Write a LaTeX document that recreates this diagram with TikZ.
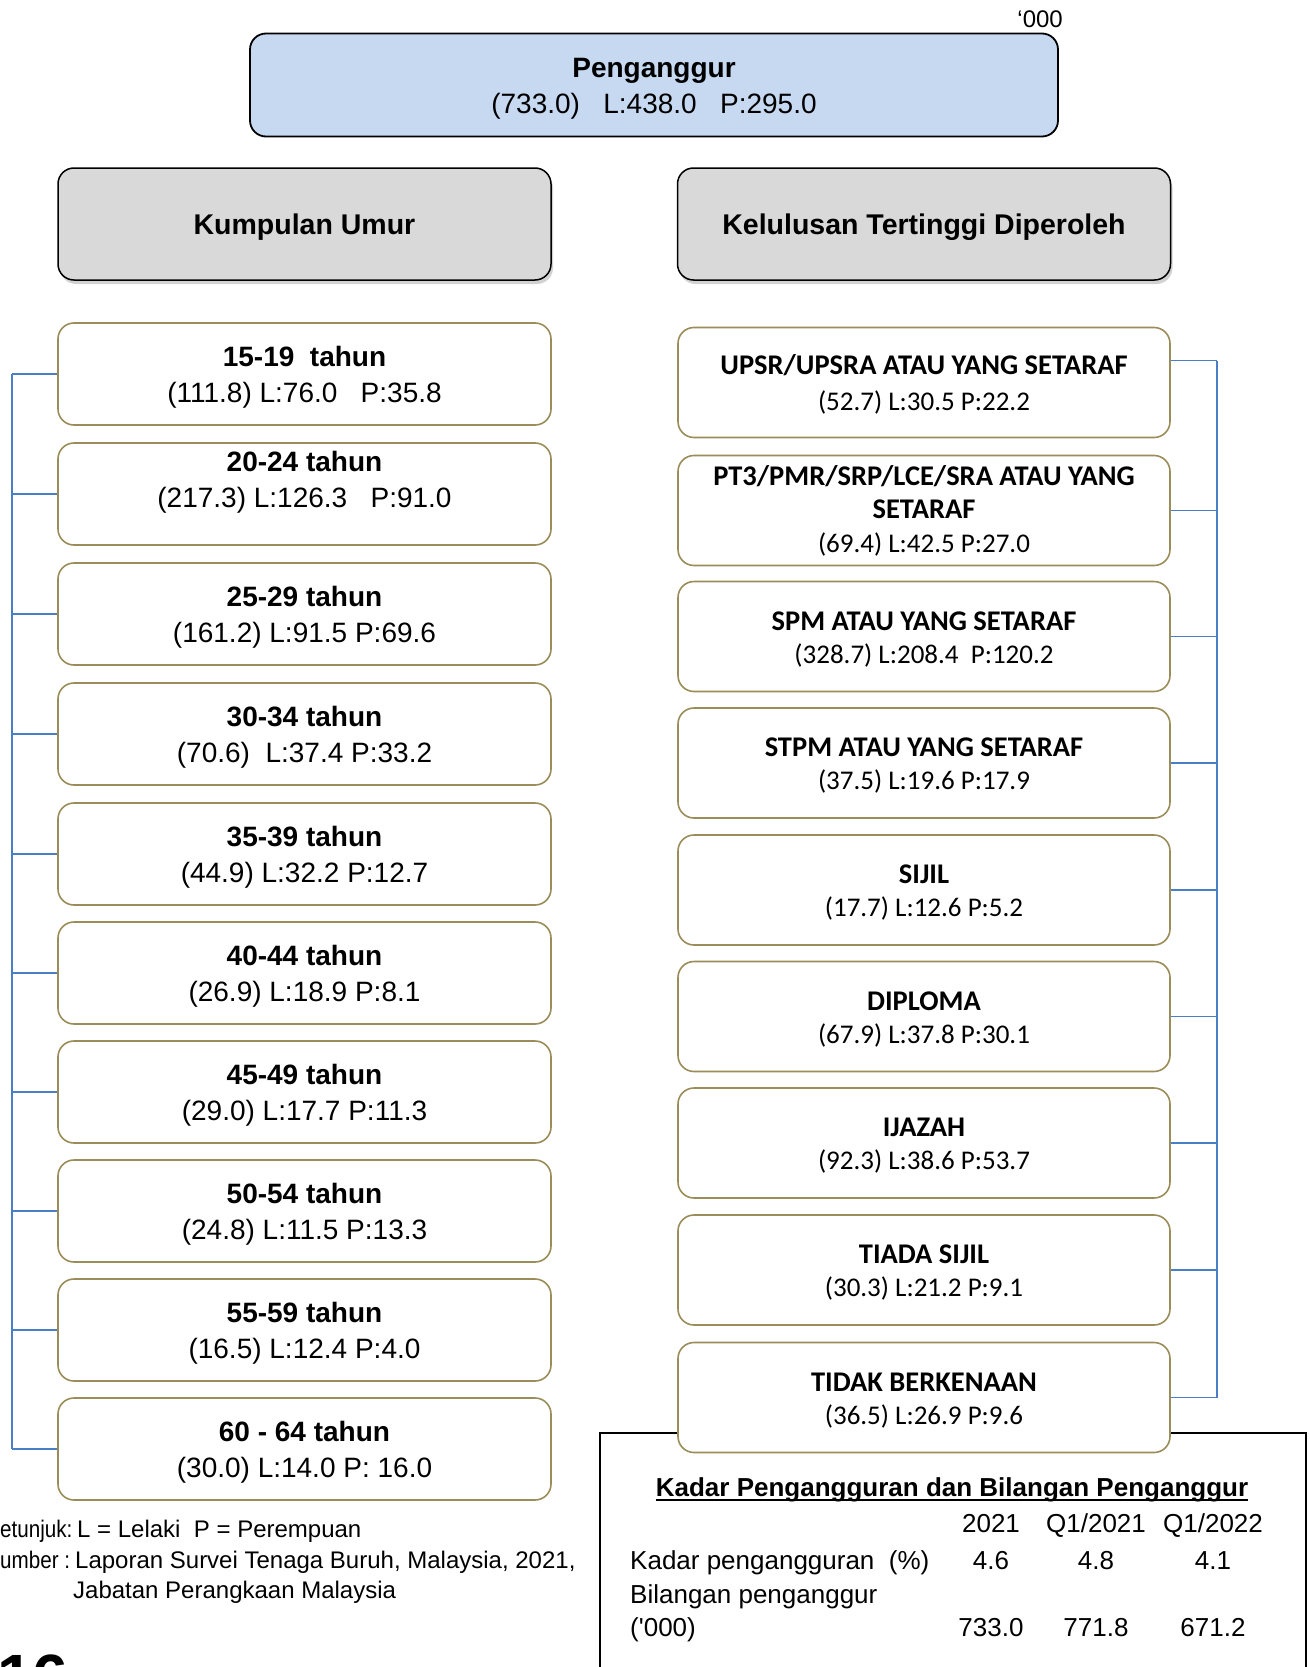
\documentclass[tikz,border=0pt]{standalone}
\usepackage{fontspec}
\setmainfont{Liberation Sans}[Ligatures=TeXOff]
\newfontfamily\calfont{Carlito}
\usetikzlibrary{shadows,calc}
\definecolor{topblue}{HTML}{C6D9F1}
\definecolor{hdrgray}{HTML}{D9D9D9}
\definecolor{boxolive}{HTML}{9A8D5A}
\definecolor{linkblue}{HTML}{4A7EC6}
\newcommand\fstrut{\rule{0pt}{26pt}}
\newcommand\cstrut{\rule{0pt}{24pt}}
\newcommand\eb[1]{{\fontsize{28.5}{33}\selectfont\bfseries #1}}
\tikzset{
  topbox/.style={draw=black, line width=1.8pt, fill=topblue, rounded corners=16pt,
    minimum width=808pt, minimum height=103pt, align=center, inner sep=0pt,
    font=\fontsize{28}{36}\selectfont},
  hdrbox/.style={draw=black, line width=1.5pt, fill=hdrgray, rounded corners=16pt,
    minimum width=493pt, minimum height=112pt, align=center, inner sep=0pt,
    font=\fontsize{28.5}{36}\selectfont\bfseries,
    drop shadow={shadow xshift=2pt, shadow yshift=-4pt, opacity=0.35}},
  agebox/.style={draw=boxolive, line width=1.6pt, fill=white, rounded corners=16pt,
    minimum width=493pt, minimum height=102pt, align=center, inner sep=0pt,
    font=\fontsize{28}{36}\selectfont},
  edubox/.style={draw=boxolive, line width=1.6pt, fill=white, rounded corners=16pt,
    minimum width=492pt, minimum height=110pt, align=center, inner sep=0pt,
    font=\calfont\fontsize{27}{33}\selectfont},
  conn/.style={draw=linkblue, line width=1.6pt},
  plain/.style={inner sep=0pt, font=\fontsize{24}{30}\selectfont},
  tbltxt/.style={inner sep=0pt, font=\fontsize{26}{30}\selectfont},
}
\begin{document}
\begin{tikzpicture}[x=1pt,y=-1pt]
\clip (0,0) rectangle (1309,1667);
\fill[white] (0,0) rectangle (1309,1667);

% table frame (drawn first so boxes overlap it)
\node[draw=black, line width=2.2pt, minimum width=706pt, minimum height=300pt,
  anchor=north west, inner sep=0pt] (tbl) at (599,1432) {};

% top
\node[plain, anchor=base east] (unit) at (1063,28) {‘000};
\node[topbox] (top) at (654,85) {\fstrut{\bfseries Penganggur}\\(733.0)\ \ \ L:438.0\ \ \ P:295.0};

% headers
\node[hdrbox] (hage) at (304.5,224) {\rule{0pt}{27pt}Kumpulan Umur};
\node[hdrbox] (hedu) at (924,224) {\rule{0pt}{27pt}Kelulusan Tertinggi Diperoleh};

% age boxes
\node[agebox] (a1) at (304.5,374) {\fstrut{\bfseries 15-19\ \ tahun}\\(111.8) L:76.0\ \ \ P:35.8};
\node[agebox] (a2) at (304.5,494) {\fstrut{\bfseries 20-24 tahun}\\(217.3) L:126.3\ \ \ P:91.0\\\mbox{}};
\node[agebox] (a3) at (304.5,614) {\fstrut{\bfseries 25-29 tahun}\\(161.2) L:91.5 P:69.6};
\node[agebox] (a4) at (304.5,734) {\fstrut{\bfseries 30-34 tahun}\\(70.6)\ \ L:37.4 P:33.2};
\node[agebox] (a5) at (304.5,854) {\fstrut{\bfseries 35-39 tahun}\\(44.9) L:32.2 P:12.7};
\node[agebox] (a6) at (304.5,973) {\fstrut{\bfseries 40-44 tahun}\\(26.9) L:18.9 P:8.1};
\node[agebox] (a7) at (304.5,1092) {\fstrut{\bfseries 45-49 tahun}\\(29.0) L:17.7 P:11.3};
\node[agebox] (a8) at (304.5,1211) {\fstrut{\bfseries 50-54 tahun}\\(24.8) L:11.5 P:13.3};
\node[agebox] (a9) at (304.5,1330) {\fstrut{\bfseries 55-59 tahun}\\(16.5) L:12.4 P:4.0};
\node[agebox] (a10) at (304.5,1449) {\fstrut{\bfseries 60 - 64 tahun}\\(30.0) L:14.0 P: 16.0};

% education boxes
\node[edubox, font=\calfont\fontsize{27}{36}\selectfont] (e1) at (924,382.5) {\cstrut\eb{UPSR/UPSRA ATAU YANG SETARAF}\\(52.7) L:30.5 P:22.2};
\node[edubox, font=\calfont\fontsize{27}{33.5}\selectfont] (e2) at (924,510.5) {\eb{PT3/PMR/SRP/LCE/SRA ATAU YANG}\\\eb{SETARAF}\\(69.4) L:42.5 P:27.0};
\node[edubox] (e3) at (924,636.5) {\cstrut\eb{SPM ATAU YANG SETARAF}\\(328.7) L:208.4\ \ P:120.2};
\node[edubox] (e4) at (924,763) {\cstrut\eb{STPM ATAU YANG SETARAF}\\(37.5) L:19.6 P:17.9};
\node[edubox] (e5) at (924,890) {\cstrut\eb{SIJIL}\\(17.7) L:12.6 P:5.2};
\node[edubox] (e6) at (924,1016.5) {\cstrut\eb{DIPLOMA}\\(67.9) L:37.8 P:30.1};
\node[edubox] (e7) at (924,1143) {\cstrut\eb{IJAZAH}\\(92.3) L:38.6 P:53.7};
\node[edubox] (e8) at (924,1270) {\cstrut\eb{TIADA SIJIL}\\(30.3) L:21.2 P:9.1};
\node[edubox] (e9) at (924,1397.5) {\cstrut\eb{TIDAK BERKENAAN}\\(36.5) L:26.9 P:9.6};

% connectors left
\coordinate (lbus) at (12,0);
\foreach \i in {1,...,10} {\draw[conn] (a\i.west) -- (a\i.west -| lbus);}
\draw[conn] (a1.west -| lbus) -- (a10.west -| lbus);

% connectors right
\coordinate (rbus) at (1217,0);
\draw[conn] ([yshift=22pt]e1.east) -- ([yshift=22pt]e1.east -| rbus);
\foreach \i in {2,...,9} {\draw[conn] (e\i.east) -- (e\i.east -| rbus);}
\draw[conn] ([yshift=22pt]e1.east -| rbus) -- (e9.east -| rbus);

% table contents
\node[tbltxt, anchor=base, font=\fontsize{26}{30}\selectfont\bfseries] (ttl) at (952,1496) {Kadar Pengangguran dan Bilangan Penganggur};
\draw[line width=1.6pt] ([yshift=-4pt]ttl.base west) -- ([yshift=-4pt]ttl.base east);
\node[tbltxt, anchor=base] (c1) at (991,1532) {2021};
\node[tbltxt, anchor=base] (c2) at (1096,1532) {Q1/2021};
\node[tbltxt, anchor=base] (c3) at (1213,1532) {Q1/2022};
\node[tbltxt, anchor=base west] (r1) at (630,1569) {Kadar pengangguran\ \ (\%)};
\node[tbltxt, anchor=base] (v11) at (991,1569) {4.6};
\node[tbltxt, anchor=base] (v12) at (1096,1569) {4.8};
\node[tbltxt, anchor=base] (v13) at (1213,1569) {4.1};
\node[tbltxt, anchor=base west] (r2) at (630,1603) {Bilangan penganggur};
\node[tbltxt, anchor=base west] (r3) at (630,1636) {('000)};
\node[tbltxt, anchor=base] (v21) at (991,1636) {733.0};
\node[tbltxt, anchor=base] (v22) at (1096,1636) {771.8};
\node[tbltxt, anchor=base] (v23) at (1213,1636) {671.2};

% footnotes
\node[plain, anchor=base west] (f1a) at (0,1537) {\scalebox{0.86}[1]{etunjuk:}};
\node[plain, anchor=base west] (f1b) at (77,1537) {L = Lelaki\ \ P = Perempuan};
\node[plain, anchor=base west] (f2a) at (0,1568) {\scalebox{0.86}[1]{umber :}};
\node[plain, anchor=base west] (f2b) at (75,1568) {Laporan Survei Tenaga Buruh, Malaysia, 2021,};
\node[plain, anchor=base west] (f3) at (73,1598) {Jabatan Perangkaan Malaysia};
\node[anchor=north west, inner sep=0pt, font=\fontsize{64}{64}\selectfont\bfseries] (pg) at (-3,1655) {16};
\end{tikzpicture}
\end{document}
